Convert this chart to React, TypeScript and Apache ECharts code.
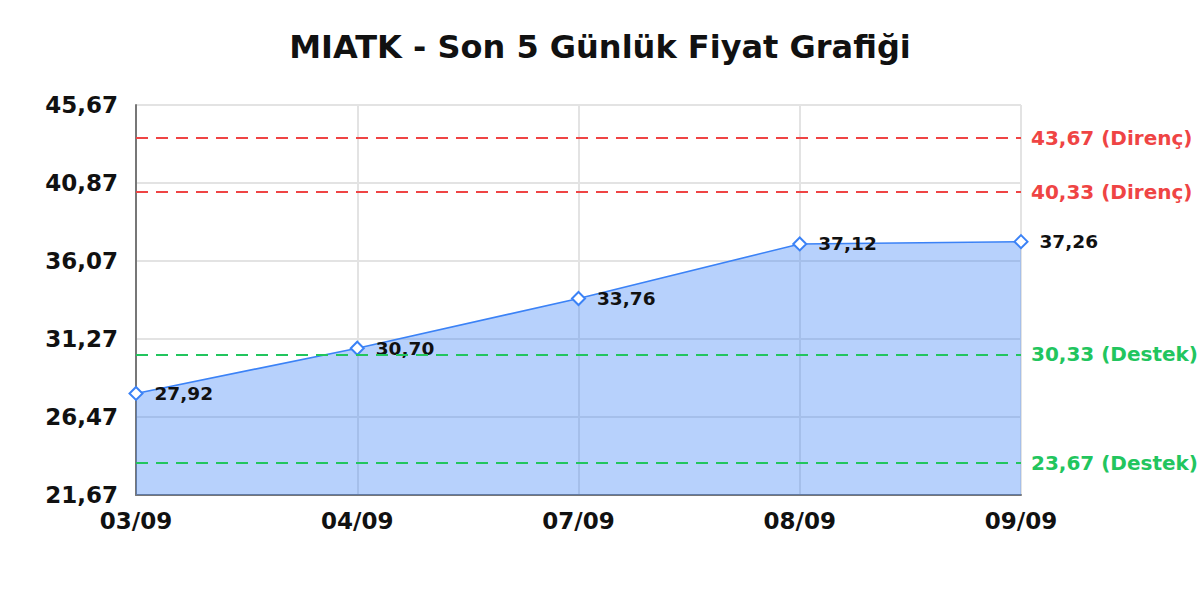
import React, { useEffect, useRef } from "react";
import * as echarts from "echarts";

const TITLE = "MIATK - Son 5 Günlük Fiyat Grafiği";
const categories = ["03/09", "04/09", "07/09", "08/09", "09/09"];
const prices = [27.92, 30.7, 33.76, 37.12, 37.26];
const resistanceLevels = [43.67, 40.33];
const supportLevels = [30.33, 23.67];
const yMin = 21.67;
const yMax = 45.67;
const yInterval = 4.8;

const fmt = (v: number) => v.toFixed(2).replace(".", ",");

const FONT = "DejaVu Sans";
const RED = "#ef4444";
const GREEN = "#22c55e";
const BLUE = "#3b82f6";

export default function App() {
  const ref = useRef<HTMLDivElement>(null);
  useEffect(() => {
    if (!ref.current) return;
    const chart = echarts.init(ref.current, null, { renderer: "svg" });
    const markData: any[] = [
      ...resistanceLevels.map((v) => ({
        yAxis: v,
        lineStyle: { color: RED, type: [12, 8], width: 1.8 },
        label: { color: RED, formatter: `${fmt(v)} (Direnç)` },
      })),
      ...supportLevels.map((v) => ({
        yAxis: v,
        lineStyle: { color: GREEN, type: [12, 8], width: 1.8 },
        label: { color: GREEN, formatter: `${fmt(v)} (Destek)` },
      })),
    ];
    chart.setOption({
      animation: false,
      textStyle: { fontFamily: FONT },
      title: {
        text: TITLE,
        left: "center",
        top: 26,
        textStyle: { fontFamily: FONT, fontSize: 32, fontWeight: "bold", color: "#111" },
      },
      grid: { left: 136, right: 179, top: 105, bottom: 105 },
      xAxis: {
        type: "category",
        data: categories,
        boundaryGap: false,
        axisLine: { lineStyle: { color: "#777", width: 2 } },
        axisTick: { show: false },
        axisLabel: { fontFamily: FONT, fontSize: 23, fontWeight: "bold", color: "#111", margin: 14 },
        splitLine: { show: true, lineStyle: { color: "#e3e3e3", width: 2 } },
      },
      yAxis: {
        type: "value",
        min: yMin,
        max: yMax,
        interval: yInterval,
        axisLine: { show: true, lineStyle: { color: "#777", width: 2 } },
        axisTick: { show: false },
        axisLabel: {
          fontFamily: FONT,
          fontSize: 23,
          fontWeight: "bold",
          color: "#111",
          margin: 18,
          formatter: (v: number) => fmt(v),
        },
        splitLine: { show: true, lineStyle: { color: "#e3e3e3", width: 2 } },
      },
      series: [
        {
          type: "line",
          data: prices,
          symbol: "emptyDiamond",
          symbolSize: 13,
          lineStyle: { color: BLUE, width: 1.6 },
          itemStyle: { color: BLUE, borderColor: BLUE, borderWidth: 2.5 },
          areaStyle: { color: BLUE, opacity: 0.37 },
          label: {
            show: true,
            position: "right",
            distance: 11,
            fontFamily: FONT,
            fontSize: 18.5,
            fontWeight: "bold",
            color: "#111",
            formatter: (p: any) => fmt(p.value),
          },
          markLine: {
            silent: true,
            symbol: "none",
            label: {
              position: "end",
              distance: 10,
              fontFamily: FONT,
              fontSize: 20,
              fontWeight: "bold",
            },
            data: markData,
          },
        },
      ],
    });
    return () => chart.dispose();
  }, []);
  return (
    <div
      ref={ref}
      style={{ position: "fixed", left: 0, top: 0, width: 1200, height: 600, background: "#fff" }}
    />
  );
}
